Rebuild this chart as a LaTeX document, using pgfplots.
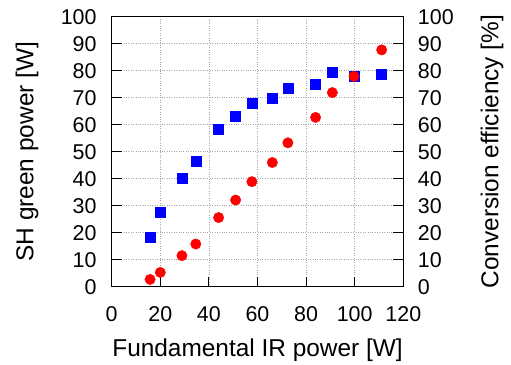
\documentclass[border=0pt]{standalone}
\usepackage{pgfplots}
\pgfplotsset{compat=1.18}
\usepackage{fontspec}
\setmainfont{Liberation Sans}
\begin{document}
\fontsize{21}{25}\selectfont
\begin{tikzpicture}
\useasboundingbox (-111.7bp,-78.3bp) rectangle (399.3bp,286.7bp);
\pgfplotsset{
  common/.style={
    scale only axis, width=291.6bp, height=270bp,
    at={(0,0)}, anchor=south west,
    xmin=0, xmax=120, ymin=0, ymax=100,
    /pgf/number format/assume math mode=true,
    tick label style={font=\fontsize{21.5}{25}\selectfont},
    label style={font=\fontsize{24.5}{29}\selectfont},
    tick align=inside, major tick length=10bp,
    every tick/.style={black, line width=1.2pt},
    axis line style={line width=1.2pt},
  }
}
\begin{axis}[common,
  xtick={0,20,...,120}, ytick={0,10,...,100},
  xtick pos=bottom, ytick pos=left,
  grid=major, grid style={gray!70, dotted, line width=0.8pt},
  xlabel={Fundamental IR power [W]}, ylabel={SH green power [W]},
  xticklabel style={yshift=-13bp}, yticklabel style={xshift=-8bp},
  ylabel style={at={(axis description cs:-0.2905,0.5)}, anchor=center},
  xlabel style={at={(axis description cs:0.5,-0.234)}, anchor=center},
]
\addplot[only marks, mark=square*, mark size=5bp, blue, mark options={draw=blue, fill=blue}] coordinates {
(15.8,18.5) (20.0,27.5) (28.9,40.1) (34.6,46.5) (44.0,58.3) (51.0,63.0) (57.7,67.9) (66.1,69.8) (72.5,73.7) (83.9,74.9) (90.8,79.3) (99.7,78.0) (111.1,78.8)
};
\addplot[only marks, mark=*, mark size=5.2bp, red, mark options={draw=red, fill=red}] coordinates {
(15.8,2.7) (20.0,5.3) (28.9,11.5) (34.6,15.8) (44.0,25.6) (51.0,32.1) (57.7,38.9) (66.1,46.0) (72.5,53.3) (83.9,62.7) (90.8,71.9) (99.7,77.9) (111.1,87.7)
};
\end{axis}
\begin{axis}[common,
  axis y line*=right, axis x line=none,
  ytick={0,10,...,100}, ytick pos=right,
  ylabel={Conversion efficiency [\%]},
  yticklabel style={xshift=7.5bp},
  ylabel style={at={(axis description cs:1.304,0.5)}, anchor=center},
]
\end{axis}
\end{tikzpicture}
\end{document}
